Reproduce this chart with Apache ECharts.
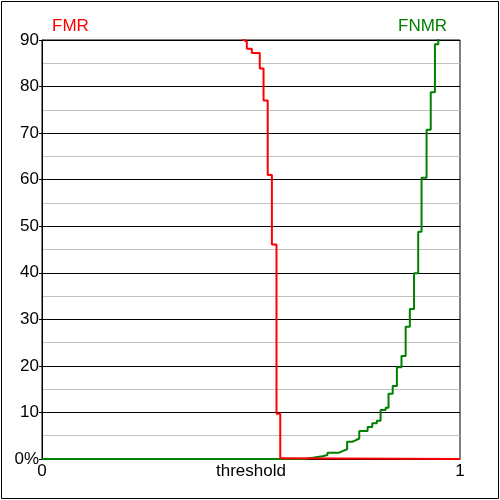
<!DOCTYPE html>
<html>
<head>
<meta charset="utf-8">
<script src="https://cdn.jsdelivr.net/npm/echarts@6/dist/echarts.min.js"></script>
<style>html,body{margin:0;padding:0;background:#fff}#c{width:500px;height:500px}</style>
</head>
<body>
<div id="c"></div>
<script>
// FMR curve: threshold where a step occurs, value (%) after the step
const fmrThreshold = [0.479, 0.484, 0.490, 0.502, 0.521, 0.530, 0.540, 0.550, 0.561, 0.570, 0.581, 1.0];
const fmrValue     = [90,    89.6,  88.1,  87.2,  83.9,  77.0,  61.0,  46.1,  9.7,   0.15,  0,     0];
// FNMR curve
const fnmrThreshold = [0, 0.629, 0.651, 0.671, 0.683, 0.711, 0.719, 0.730, 0.742, 0.750, 0.759, 0.779, 0.790, 0.801, 0.810, 0.822, 0.829, 0.839, 0.849, 0.860, 0.870, 0.880, 0.890, 0.900, 0.908, 0.920, 0.930, 0.940, 0.948];
const fnmrValue     = [0, 0.3,   0.6,   0.85,  1.35,  1.7,   2.1,   3.7,   4.0,   4.4,   6.0,   6.9,   7.7,   8.2,   10.5,  11.0,  14.0,  15.7,  19.7,  22.1,  28.4,  32.2,  39.9,  48.8,  60.4,  70.7,  78.8,  89.1,  100];
const yTicks = [0, 10, 20, 30, 40, 50, 60, 70, 80, 90];
const xLabelName = 'threshold';

const font = 'Liberation Sans, Arial, sans-serif';
const chart = echarts.init(document.getElementById('c'), null, {renderer: 'canvas'});
chart.setOption({
  animation: false,
  backgroundColor: '#fff',
  grid: {left: 42, right: 40, top: 40, bottom: 41, show: true, borderColor: '#000', borderWidth: 1, containLabel: false, outerBoundsMode: 'none'},
  xAxis: {
    type: 'value', min: 0, max: 1, interval: 1,
    name: xLabelName, nameLocation: 'middle', nameGap: 4, nameMoveOverlap: false,
    nameTextStyle: {color: '#000', fontSize: 17, fontFamily: font, verticalAlign: 'top'},
    axisLine: {show: true, lineStyle: {color: '#000', width: 1}},
    axisTick: {show: false},
    axisLabel: {color: '#000', fontSize: 17, fontFamily: font, margin: 4, showMaxLabel: true, showMinLabel: true},
    splitLine: {show: false}
  },
  yAxis: {
    type: 'value', min: yTicks[0], max: yTicks[yTicks.length - 1], interval: 10,
    axisLine: {show: true, lineStyle: {color: '#000', width: 1}},
    axisTick: {show: true, length: 3, lineStyle: {color: '#000'}},
    axisLabel: {color: '#000', fontSize: 17, fontFamily: font, margin: 3,
      formatter: v => v === 0 ? '0%' : String(v)},
    splitLine: {show: true, lineStyle: {color: '#000', width: 1}},
    minorTick: {show: false, splitNumber: 2},
    minorSplitLine: {show: true, lineStyle: {color: '#c0c0c0', width: 1}}
  },
  series: [
    {
      name: 'FNMR', type: 'line', step: 'end', symbol: 'none', clip: true,
      lineStyle: {color: '#008000', width: 2},
      data: fnmrThreshold.map((t, i) => [t, fnmrValue[i]])
    },
    {
      name: 'FMR', type: 'line', step: 'end', symbol: 'none', clip: true,
      lineStyle: {color: '#ff0000', width: 2},
      data: fmrThreshold.map((t, i) => [t, fmrValue[i]])
    }
  ],
  graphic: [
    {type: 'rect', shape: {x: 1.5, y: 1.5, width: 497, height: 497}, style: {fill: null, stroke: '#000', lineWidth: 1}, silent: true},
    {type: 'text', left: 52, top: 18, style: {text: 'FMR', fill: '#ff0000', font: '17px ' + font}},
    {type: 'text', left: 398, top: 18, style: {text: 'FNMR', fill: '#008000', font: '17px ' + font}}
  ]
});
</script>
</body>
</html>
